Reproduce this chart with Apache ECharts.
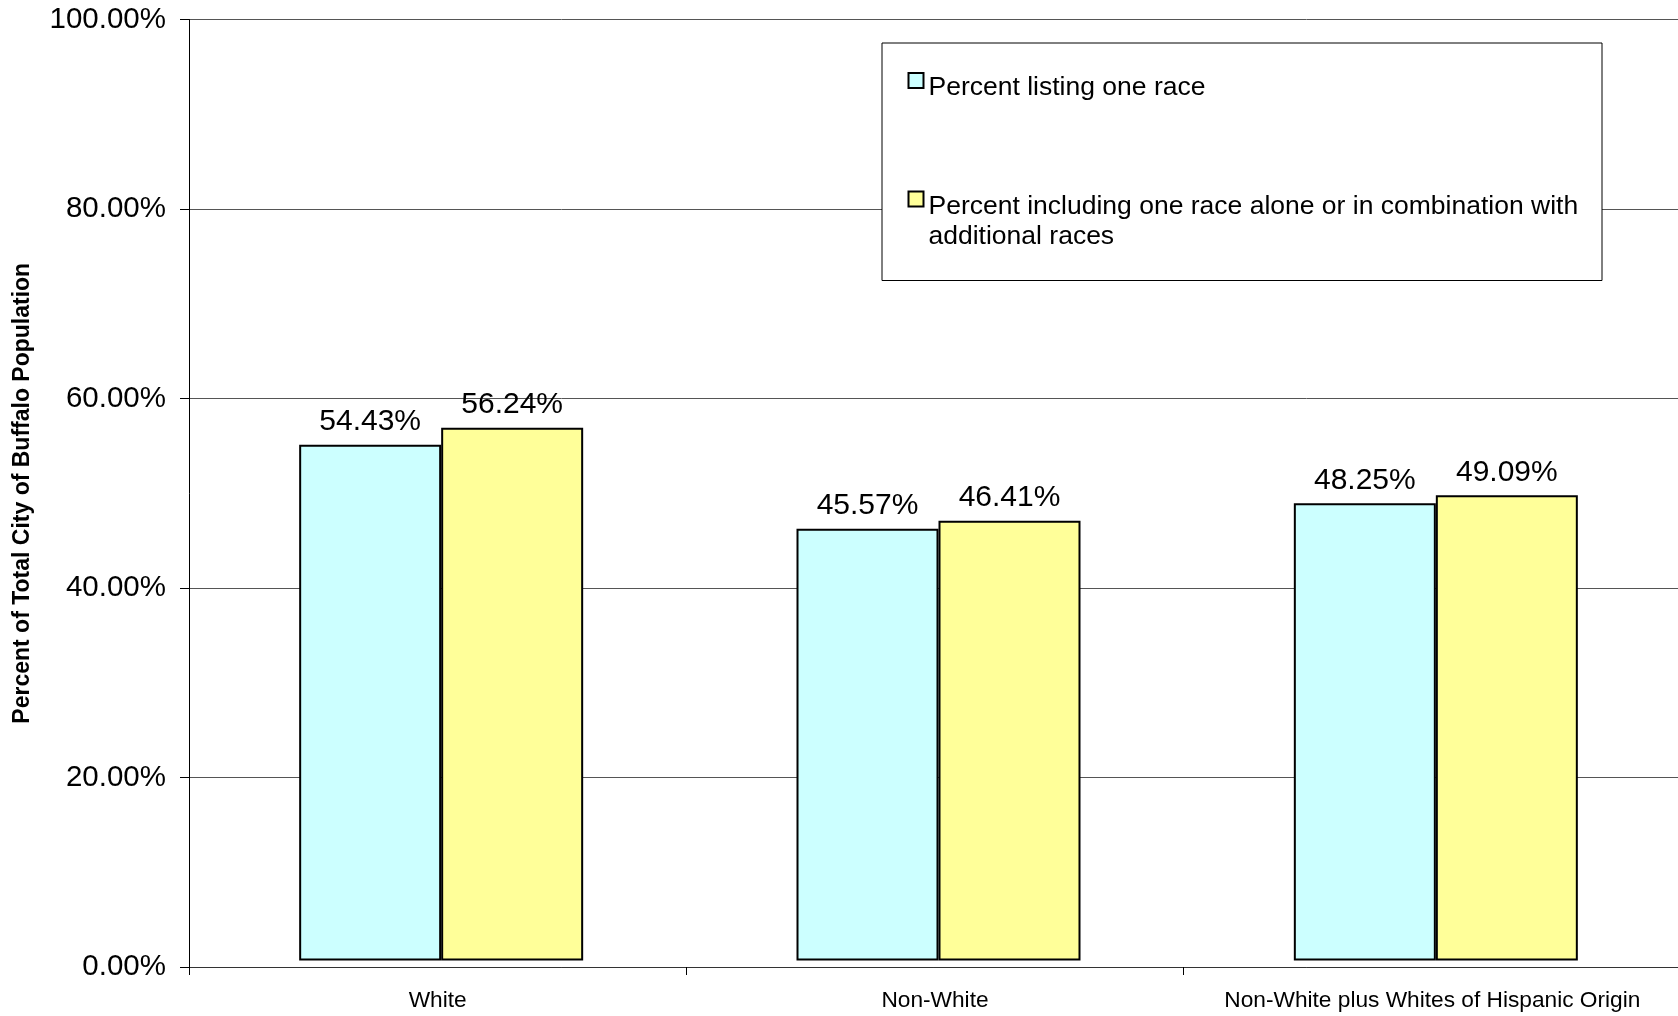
<!DOCTYPE html>
<html>
<head>
<meta charset="utf-8">
<style>
  html, body { margin: 0; padding: 0; background: #fff; }
  #chart { width: 1678px; height: 1016px; }
</style>
<script src="https://cdn.jsdelivr.net/npm/echarts@6/dist/echarts.min.js"></script>
</head>
<body>
<div id="chart"></div>
<script>
const categories = ['White', 'Non-White', 'Non-White plus Whites of Hispanic Origin'];
const seriesNames = ['Percent listing one race', 'Percent including one race alone or in combination with additional races'];
const oneRace = [54.43, 45.57, 48.25];
const inCombination = [56.24, 46.41, 49.09];
const yTicks = [0, 20, 40, 60, 80, 100];

const FONT = 'Arial, "Liberation Sans", sans-serif';
const chart = echarts.init(document.getElementById('chart'), null, { renderer: 'canvas' });

const labelOpt = {
  show: true,
  position: 'top',
  distance: 8,
  color: '#000',
  fontFamily: FONT,
  fontSize: 30,
  formatter: p => p.value.toFixed(2) + '%'
};

chart.setOption({
  backgroundColor: '#fff',
  animation: false,
  grid: [
    { left: 189, width: 1492, top: 19.5, bottom: 49, containLabel: false, outerBoundsMode: 'none' },
    { left: 192.5, width: 1492, top: 13, bottom: 55.5, containLabel: false, outerBoundsMode: 'none' }
  ],
  xAxis: [
    {
      type: 'category', gridIndex: 0, data: categories,
      axisLine: { show: true, onZero: false, lineStyle: { color: '#333', width: 1 } },
      axisTick: { show: true, length: 8, lineStyle: { color: '#000' } },
      axisLabel: { color: '#000', fontFamily: FONT, fontSize: 22.7, margin: 22, interval: 0 },
      splitLine: { show: false }
    },
    {
      type: 'category', gridIndex: 1, data: categories,
      show: false
    }
  ],
  yAxis: [
    {
      type: 'value', gridIndex: 0, min: 0, max: 100, interval: 20,
      name: 'Percent of Total City of Buffalo Population',
      nameLocation: 'middle', nameRotate: 90, nameGap: 155,
      nameTextStyle: { color: '#000', fontFamily: FONT, fontSize: 23, fontWeight: 'bold' },
      axisLine: { show: true, lineStyle: { color: '#000', width: 1 } },
      axisTick: { show: true, length: 9, lineStyle: { color: '#000' } },
      axisLabel: {
        color: '#000', fontFamily: FONT, fontSize: 29.5, margin: 23,
        formatter: v => yTicks.includes(v) ? v.toFixed(2) + '%' : ''
      },
      splitLine: { show: true, lineStyle: { color: '#555', width: 1 } }
    },
    {
      type: 'value', gridIndex: 1, min: 0, max: 100, interval: 20, show: false,
      splitLine: { show: false }
    }
  ],
  legend: [
    {
      z: 20,
      left: 907.5, top: 60.5,
      padding: 0,
      itemWidth: 15, itemHeight: 15,
      icon: 'rect',
      data: [seriesNames[0]],
      itemStyle: { borderColor: '#000', borderWidth: 2 },
      formatter: name => '{g|}\n{t|' + name + '}',
      textStyle: {
        color: '#000', fontFamily: FONT, fontSize: 26.5,
        rich: {
          g: { lineHeight: 15, fontSize: 10 },
          t: { lineHeight: 30, fontSize: 26.5, fontFamily: FONT, color: '#000' }
        }
      }
    },
    {
      z: 20,
      left: 907.5, top: 164,
      padding: 0,
      itemWidth: 15, itemHeight: 15,
      icon: 'rect',
      data: [seriesNames[1]],
      itemStyle: { borderColor: '#000', borderWidth: 2 },
      formatter: () => '{g|}\n{t|Percent including one race alone or in combination with}\n{t|additional races}',
      textStyle: {
        color: '#000', fontFamily: FONT, fontSize: 26.5,
        rich: {
          g: { lineHeight: 46, fontSize: 10 },
          t: { lineHeight: 30, fontSize: 26.5, fontFamily: FONT, color: '#000' }
        }
      }
    }
  ],
  graphic: [
    {
      type: 'rect', z: 10,
      shape: { x: 882, y: 43, width: 720, height: 237.5 },
      style: { fill: '#fff', stroke: '#000', lineWidth: 1 }
    }
  ],
  series: [
    {
      name: seriesNames[0], type: 'bar', xAxisIndex: 1, yAxisIndex: 1,
      data: oneRace, barWidth: 142, barGap: '0%',
      itemStyle: { color: '#CCFFFF', borderColor: '#000', borderWidth: 2 },
      label: labelOpt
    },
    {
      name: seriesNames[1], type: 'bar', xAxisIndex: 1, yAxisIndex: 1,
      data: inCombination, barWidth: 142, barGap: '0%',
      itemStyle: { color: '#FFFF99', borderColor: '#000', borderWidth: 2 },
      label: labelOpt
    }
  ]
});
</script>
</body>
</html>
